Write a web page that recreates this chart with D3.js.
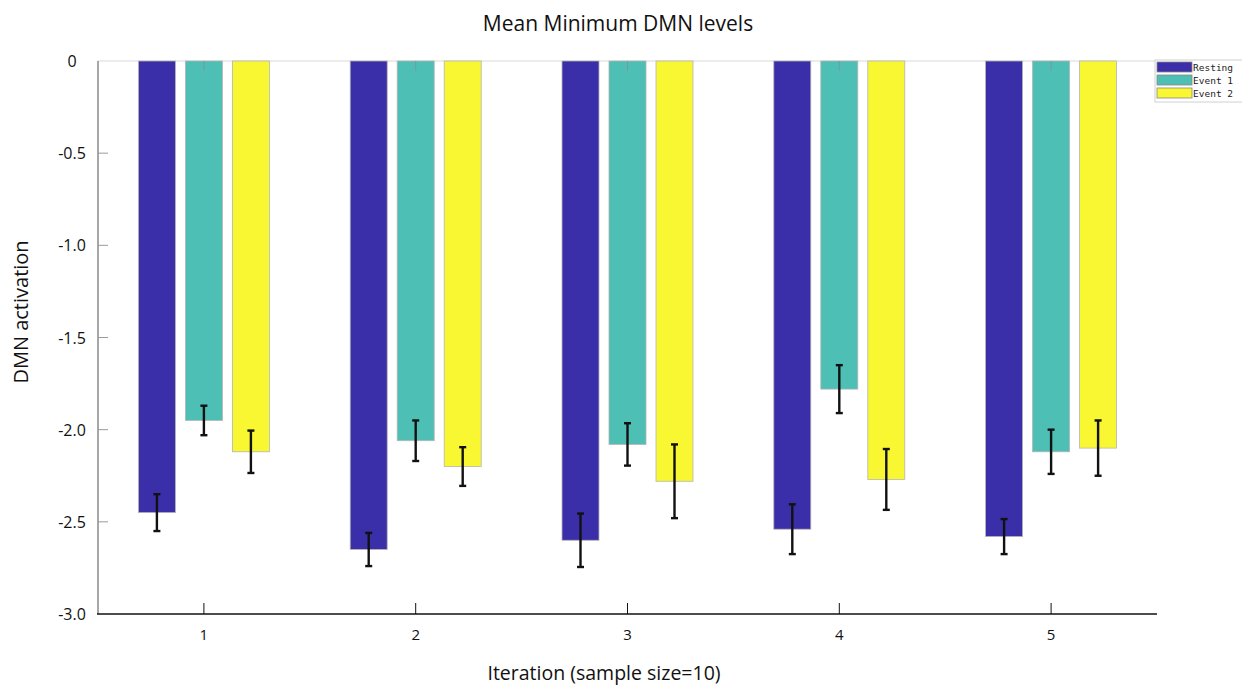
<!DOCTYPE html>
<html>
<head>
<meta charset="utf-8">
<script src="https://cdn.jsdelivr.net/npm/d3@7"></script>
<style>
  html, body { margin: 0; padding: 0; background: #fff; }
  svg { display: block; font-family: "Open Sans", "Liberation Sans", sans-serif; }
</style>
</head>
<body>
<svg id="chart" width="1242" height="687"></svg>
<script>
// Iterations on the x axis, one bar per condition in each group
const iterations = ["1", "2", "3", "4", "5"];
const conditions = ["Resting", "Event 1", "Event 2"];
const colors = ["#3a2fa8", "#4dbfb5", "#f8f732"];

// Mean minimum DMN activation per condition, per iteration
const resting = [-2.45, -2.65, -2.60, -2.54, -2.58];
const event1  = [-1.95, -2.06, -2.08, -1.78, -2.12];
const event2  = [-2.12, -2.20, -2.28, -2.27, -2.10];

// Half-length of each error bar
const restingErr = [0.10, 0.09, 0.145, 0.135, 0.095];
const event1Err  = [0.08, 0.11, 0.115, 0.13, 0.12];
const event2Err  = [0.115, 0.105, 0.20, 0.165, 0.15];

const yTicks = [0, -0.5, -1.0, -1.5, -2.0, -2.5, -3.0];
const yTickLabels = ["0", "-0.5", "-1.0", "-1.5", "-2.0", "-2.5", "-3.0"];

const series = [resting, event1, event2];
const errors = [restingErr, event1Err, event2Err];

const svg = d3.select("#chart");
const plotLeft = 98, plotRight = 1157, plotTop = 61, plotBottom = 614;

const x = d3.scaleLinear().domain([0.5, 5.5]).range([plotLeft, plotRight]);
const y = d3.scaleLinear().domain([0, -3]).range([plotTop, plotBottom]);
const offset = d3.scaleBand().domain(conditions).range([-65.5, 65.5]).paddingInner(10 / 47);
const barW = offset.bandwidth();

// Top frame line
svg.append("line")
  .attr("x1", plotLeft).attr("x2", plotRight).attr("y1", plotTop).attr("y2", plotTop)
  .attr("stroke", "#d9d9d9").attr("stroke-width", 1);

// Bars
conditions.forEach((c, ci) => {
  svg.append("g").selectAll("rect")
    .data(series[ci])
    .join("rect")
    .attr("x", (d, i) => x(i + 1) + offset(c))
    .attr("y", y(0))
    .attr("width", barW)
    .attr("height", d => y(d) - y(0))
    .attr("fill", colors[ci])
    .attr("stroke", "#b5b5b5")
    .attr("stroke-width", 0.8);
});

// Top ticks at category positions, drawn over the bars
svg.append("g").selectAll("line")
  .data(iterations)
  .join("line")
  .attr("x1", (d, i) => x(i + 1)).attr("x2", (d, i) => x(i + 1))
  .attr("y1", plotTop).attr("y2", plotTop + 10)
  .attr("stroke", "#7a9a96").attr("stroke-width", 1);

// Error bars
conditions.forEach((c, ci) => {
  const g = svg.append("g").attr("stroke", "#111").attr("stroke-width", 2.4);
  series[ci].forEach((v, i) => {
    const cx = x(i + 1) + offset(c) + barW / 2;
    const y1 = y(v + errors[ci][i]), y2 = y(v - errors[ci][i]);
    g.append("line").attr("x1", cx).attr("x2", cx).attr("y1", y1).attr("y2", y2);
    g.append("line").attr("x1", cx - 3.5).attr("x2", cx + 3.5).attr("y1", y1).attr("y2", y1);
    g.append("line").attr("x1", cx - 3.5).attr("x2", cx + 3.5).attr("y1", y2).attr("y2", y2);
  });
});

// Y axis
const yAxis = svg.append("g").attr("transform", `translate(${plotLeft},0)`);
yAxis.append("line")
  .attr("x1", 0).attr("x2", 0).attr("y1", plotTop).attr("y2", plotBottom)
  .attr("stroke", "#8a8a8a").attr("stroke-width", 1.5);
yAxis.selectAll("line.tick")
  .data(yTicks.slice(1, -1))
  .join("line").attr("class", "tick")
  .attr("x1", 0).attr("x2", 10)
  .attr("y1", d => y(d)).attr("y2", d => y(d))
  .attr("stroke", "#9a9a9a").attr("stroke-width", 1);
svg.append("g").selectAll("text")
  .data(yTicks)
  .join("text")
  .attr("x", 72)
  .attr("y", d => y(d) + 6)
  .attr("text-anchor", "middle")
  .attr("font-size", 16)
  .attr("fill", "#111")
  .text((d, i) => yTickLabels[i]);

// X axis
const xAxis = svg.append("g");
xAxis.append("line")
  .attr("x1", plotLeft - 1).attr("x2", plotRight).attr("y1", plotBottom).attr("y2", plotBottom)
  .attr("stroke", "#111").attr("stroke-width", 1.5);
xAxis.selectAll("line.tick")
  .data(iterations)
  .join("line").attr("class", "tick")
  .attr("x1", (d, i) => x(i + 1)).attr("x2", (d, i) => x(i + 1))
  .attr("y1", plotBottom).attr("y2", plotBottom - 11)
  .attr("stroke", "#111").attr("stroke-width", 1);
xAxis.selectAll("text")
  .data(iterations)
  .join("text")
  .attr("x", (d, i) => x(i + 1))
  .attr("y", 640)
  .attr("text-anchor", "middle")
  .attr("font-size", 15)
  .attr("fill", "#111")
  .text(d => d);

// Titles
svg.append("text")
  .attr("x", 618).attr("y", 31)
  .attr("text-anchor", "middle").attr("font-size", 21).attr("fill", "#111")
  .text("Mean Minimum DMN levels");
svg.append("text")
  .attr("transform", "translate(28,312) rotate(-90)")
  .attr("text-anchor", "middle").attr("font-size", 20).attr("fill", "#111")
  .text("DMN activation");
svg.append("text")
  .attr("x", 604).attr("y", 680)
  .attr("text-anchor", "middle").attr("font-size", 19.5).attr("fill", "#111")
  .text("Iteration (sample size=10)");

// Legend
const legend = svg.append("g").attr("transform", "translate(1155,60)");
legend.append("rect")
  .attr("x", 0).attr("y", 0).attr("width", 90).attr("height", 42)
  .attr("fill", "#fff").attr("stroke", "#d0d0d0").attr("stroke-width", 1);
conditions.forEach((c, ci) => {
  const ly = 2 + ci * 13;
  legend.append("rect")
    .attr("x", 2).attr("y", ly).attr("width", 35).attr("height", 10)
    .attr("fill", colors[ci]).attr("stroke", "#888").attr("stroke-width", 0.8);
  legend.append("text")
    .attr("x", 38).attr("y", ly + 9)
    .attr("font-family", "DejaVu Sans Mono, Liberation Mono, monospace")
    .attr("font-size", 9.5).attr("fill", "#222")
    .text(c);
});
</script>
</body>
</html>
